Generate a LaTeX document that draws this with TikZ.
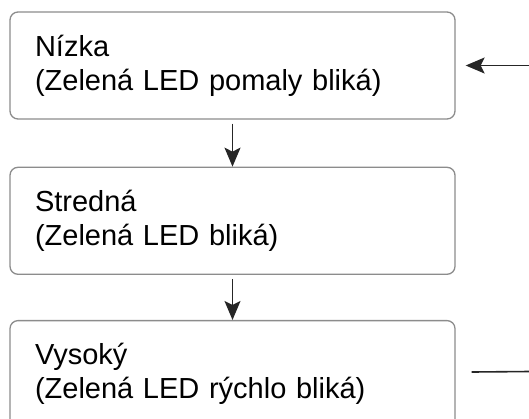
\documentclass[tikz,border=0pt]{standalone}
\usepackage{fontspec}
\setmainfont{Liberation Sans}
\usetikzlibrary{positioning, arrows.meta}

\begin{document}
\begin{tikzpicture}[x=1pt, y=1pt,
	every node/.style={font=\fontsize{29}{34}\selectfont},
	lvl/.style={rectangle, rounded corners=8pt, draw=black!45, line width=1.3pt, text width=395pt, inner xsep=25pt, inner ysep=0pt, align=left, minimum height=107pt},
	arr/.style={-{Stealth[length=19pt, width=16pt, inset=4pt]}, line width=1.6pt, draw=black!85}
	]
\useasboundingbox (0,0) rectangle (529,-418);

\node[lvl] (low) at (232.5,-65.5) {Nízka\\(Zelená LED pomaly bliká)};
\node[lvl, below=47pt of low] (mid) {Stredná\\(Zelená LED bliká)};
\node[lvl, below=45pt of mid] (high) {Vysoký\\(Zelená LED rýchlo bliká)};

\coordinate (in) at (529,-65.5);
\coordinate (out) at (529,-371.5);

\draw[arr, shorten <=4pt] (low) -- (mid);
\draw[arr, shorten <=4pt] (mid) -- (high);
\draw[arr, shorten >=10pt] (in) -- (low);
\draw[line width=1.6pt, draw=black!85, shorten <=16pt] (high) -- (out);

\end{tikzpicture}
\end{document}
